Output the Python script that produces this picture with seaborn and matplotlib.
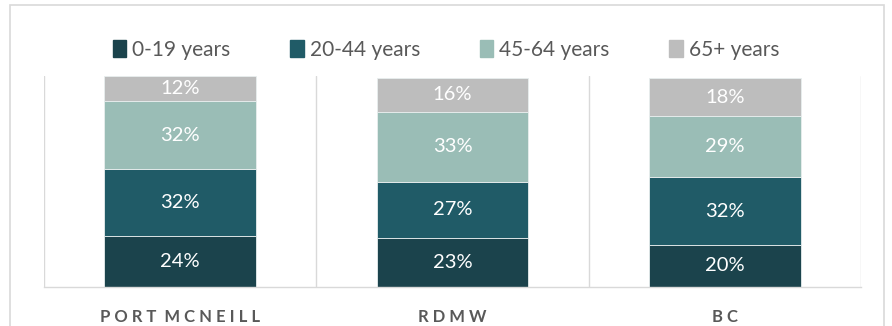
import matplotlib
matplotlib.use("Agg")
import matplotlib.pyplot as plt
import matplotlib.patches as mpatches
import seaborn as sns
import pandas as pd
import numpy as np

# Population share by age group
regions = ["PORT MCNEILL", "RDMW", "BC"]
age_groups = ["0-19 years", "20-44 years", "45-64 years", "65+ years"]
age_0_19 = [24, 23, 20]
age_20_44 = [32, 27, 32]
age_45_64 = [32, 33, 29]
age_65_plus = [12, 16, 18]

colors = ["#1B434C", "#205B67", "#9ABDB6", "#BDBDBD"]

sns.set_theme(style="white")
plt.rcParams["font.family"] = ["Lato", "DejaVu Sans"]

fig = plt.figure(figsize=(8.92, 3.26), dpi=100)
ax = fig.add_axes([44 / 892, 1 - 287 / 326, (861 - 44) / 892, (287 - 76) / 326])

series = [age_0_19, age_20_44, age_45_64, age_65_plus]
bottom = np.zeros(len(regions))
for name, vals, col in zip(age_groups, series, colors):
    df = pd.DataFrame({"region": regions, "share": vals})
    sns.barplot(data=df, x="region", y="share", color=col, bottom=bottom,
                width=0.556, edgecolor="#E8EEEE", linewidth=0.6,
                saturation=1, ax=ax)
    bottom = bottom + np.array(vals)

for cont in ax.containers:
    ax.bar_label(cont, labels=[f"{v:.0f}%" for v in cont.datavalues],
                 label_type="center", color="white", fontsize=14.5)

ax.set_xlim(-0.5, 2.5)
ax.set_ylim(0, 100)
ax.set_yticks([])
ax.set_xlabel("")
ax.set_ylabel("")
if ax.get_legend() is not None:
    ax.get_legend().remove()
for b in [-0.5, 0.5, 1.5, 2.5]:
    ax.axvline(b, color="#D9D9D9", lw=1, zorder=0)
for s in ["top", "left", "right"]:
    ax.spines[s].set_visible(False)
ax.spines["bottom"].set_color("#D9D9D9")
ax.spines["bottom"].set_linewidth(1)
ax.tick_params(axis="x", length=0, pad=16)
# letter-spaced category labels
spaced = ["  ".join(" ".join(list(w)) for w in r.split(" ")) for r in regions]
ax.set_xticks(range(len(regions)))
ax.set_xticklabels(spaced, fontsize=12, fontweight="bold", color="#595959")

handles = [mpatches.Patch(color=c, label=l) for c, l in zip(colors, age_groups)]
fig.legend(handles=handles, loc="center", bbox_to_anchor=(0.5, 1 - 50 / 326),
           ncol=4, frameon=False, fontsize=15, handlelength=0.65,
           handleheight=0.9, handletextpad=0.3, columnspacing=2.85,
           labelcolor="#595959")

# Outer frame
fig.patches.append(mpatches.Rectangle((10 / 892, -0.02), (884 - 10) / 892, 1.02 - 5 / 326,
                                      transform=fig.transFigure, fill=False,
                                      edgecolor="#D9D9D9", lw=1.2))

fig.savefig("out.png", dpi=100)
